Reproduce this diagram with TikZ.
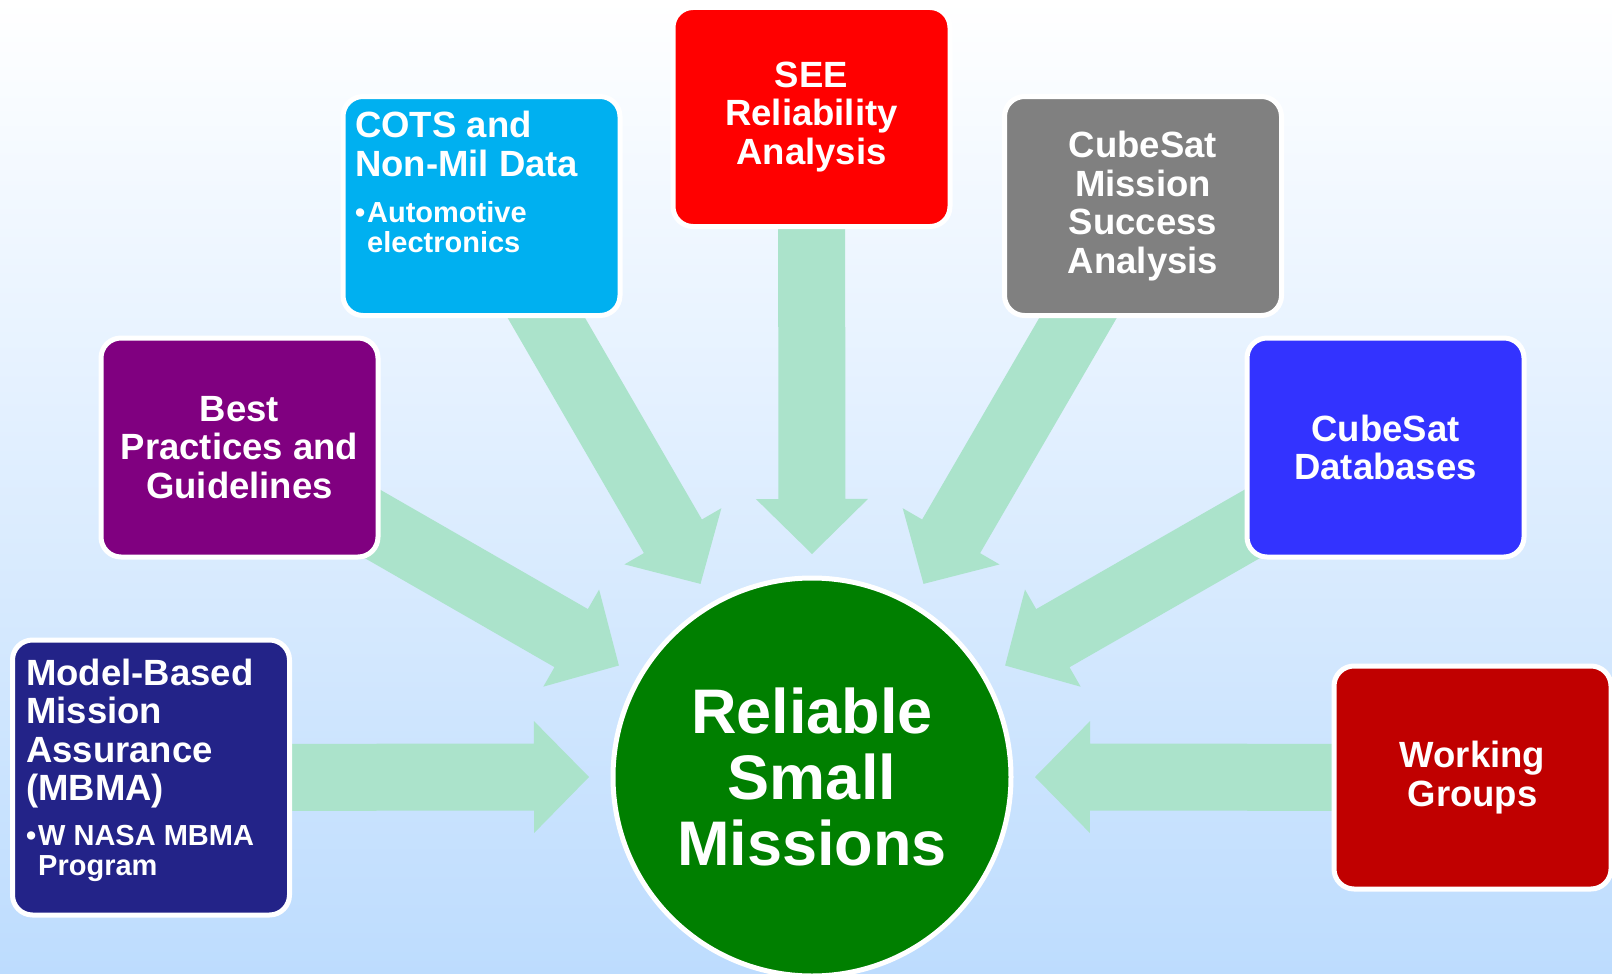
\documentclass[tikz,border=0pt]{standalone}
\usepackage{fontspec}
\setmainfont{Liberation Sans}
\usetikzlibrary{calc}
\pgfdeclarelayer{back}
\pgfdeclarelayer{bg}
\pgfsetlayers{back,bg,main}
\definecolor{bgblue}{RGB}{189,220,254}
\definecolor{mint}{RGB}{171,227,203}
\definecolor{navybox}{RGB}{35,35,136}
\definecolor{purplebox}{RGB}{128,0,128}
\definecolor{cyanbox}{RGB}{0,176,240}
\definecolor{redbox}{RGB}{255,0,0}
\definecolor{graybox}{RGB}{128,128,128}
\definecolor{bluebox}{RGB}{51,51,255}
\definecolor{darkredbox}{RGB}{192,0,0}
\definecolor{greencirc}{RGB}{0,127,0}
\newcommand\blockarrow[2]{%
  \coordinate (#2-b) at ($(#2)!55pt!(#1.center)$);
  \fill[arrowfill] ($(#1.center)!33.5pt!90:(#2)$) -- ($(#2-b)!33.5pt!90:(#2)$)
    -- ($(#2-b)!56pt!90:(#2)$) -- (#2) -- ($(#2-b)!56pt!-90:(#2)$)
    -- ($(#2-b)!33.5pt!-90:(#2)$) -- ($(#1.center)!33.5pt!-90:(#2)$) -- cycle;}
\begin{document}
\begin{tikzpicture}[x=1pt,y=1pt,
  box/.style={rounded corners=20pt, draw=white, line width=5pt, minimum width=277pt,
    minimum height=219pt, inner sep=0pt, text=white, align=center,
    font=\bfseries\fontsize{36.5}{38.5}\selectfont},
  ttl/.style={text=white, align=left, inner sep=0pt, font=\bfseries\fontsize{36.5}{38.5}\selectfont},
  sub/.style={text=white, align=left, inner sep=0pt, font=\bfseries\fontsize{29}{30}\selectfont},
  arrowfill/.style={fill=mint}]
\useasboundingbox (0,0) rectangle (1612,-974);
\begin{pgfonlayer}{back}
  \shade[top color=white, bottom color=bgblue] (0,0) rectangle (1612,-974);
\end{pgfonlayer}

\node[box, fill=navybox, minimum height=275pt] (mbma) at (151,-777.5) {};
\node[box, fill=purplebox] (best) at (239.5,-447.5) {Best\\Practices and\\Guidelines};
\node[box, fill=cyanbox] (cots) at (481.5,-206) {};
\node[box, fill=redbox] (see) at (811.5,-117) {SEE\\Reliability\\Analysis};
\node[box, fill=graybox] (cms) at (1143,-206) {CubeSat\\Mission\\Success\\Analysis};
\node[box, fill=bluebox] (cdb) at (1385.5,-447.5) {CubeSat\\Databases};
\node[box, fill=darkredbox, minimum height=223pt] (wg) at (1472.5,-777.5) {Working\\Groups};
\node[circle, draw=white, line width=5pt, fill=greencirc, minimum size=398pt, inner sep=0pt,
  text=white, align=center, font=\bfseries\fontsize{63}{66}\selectfont] (rsm) at (812,-777)
  {Reliable\\Small\\Missions};

% base anchor of a multi-line node = baseline of its last line
\node[ttl, anchor=base west] (mbmat) at (26,-800.5) {Model-Based\\Mission\\Assurance\\(MBMA)};
\node[sub, anchor=base west] (mbmab) at (26,-875) {\makebox[12pt][l]{•}W NASA MBMA\\\hspace*{12pt}Program};
\node[ttl, anchor=base west] (cotst) at (355,-176) {COTS and\\Non-Mil Data};
\node[sub, anchor=base west] (cotsb) at (355,-252) {\makebox[12pt][l]{•}Automotive\\\hspace*{12pt}electronics};

\coordinate (t1) at ($(rsm.center)+(180:223)$);
\coordinate (t2) at ($(rsm.center)+(150:223)$);
\coordinate (t3) at ($(rsm.center)+(120:223)$);
\coordinate (t4) at ($(rsm.center)+(90:223)$);
\coordinate (t5) at ($(rsm.center)+(60:223)$);
\coordinate (t6) at ($(rsm.center)+(30:223)$);
\coordinate (t7) at ($(rsm.center)+(0:223)$);
\begin{pgfonlayer}{bg}
  \blockarrow{mbma}{t1}
  \blockarrow{best}{t2}
  \blockarrow{cots}{t3}
  \blockarrow{see}{t4}
  \blockarrow{cms}{t5}
  \blockarrow{cdb}{t6}
  \blockarrow{wg}{t7}
\end{pgfonlayer}
\end{tikzpicture}
\end{document}
